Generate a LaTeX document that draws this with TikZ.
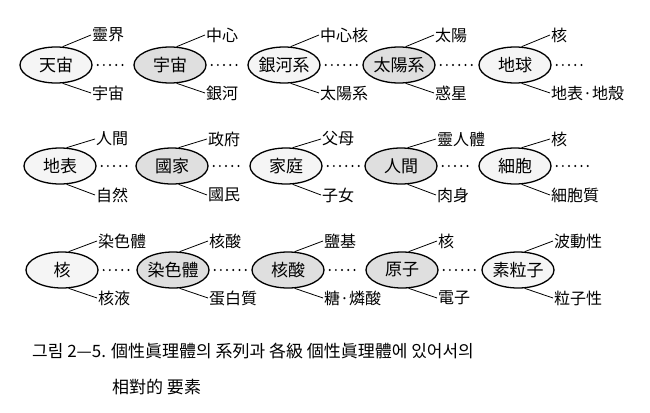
\documentclass[tikz,border=0pt]{standalone}
\usepackage{fontspec}
\setmainfont{Noto Sans CJK KR}
\usetikzlibrary{shapes.geometric}
\tikzset{
	whole/.style={ellipse, draw, line width=1.3pt, minimum width=72pt, minimum height=36pt, inner xsep=-8pt, inner ysep=0pt, font=\fontsize{17}{17}\selectfont},
	lightwhole/.style={whole, fill=gray!8},
	darkwhole/.style={whole, fill=gray!25},
	part/.style={anchor=west, inner sep=1pt, font=\fontsize{16}{16}\selectfont},
	branch/.style={line width=0.8pt},
	chain/.style={line width=2.2pt, line cap=round, dash pattern=on 0pt off 6.2pt, shorten <=5pt, shorten >=5pt}
}
\begin{document}
\begin{tikzpicture}[x=1pt,y=-1pt]
		\useasboundingbox (0,0) rectangle (650,412);
		% row 1
		\node[lightwhole] (tianzhou) at (56,65) {天宙};
		\node[darkwhole] (yuzhou) at (170,65) {宇宙};
		\node[lightwhole] (galaxy) at (284,65) {銀河系};
		\node[darkwhole] (solar) at (399,65) {太陽系};
		\node[lightwhole] (earth) at (515,65) {地球};
		\coordinate (rowaend) at (592,65);
		\node[part] (tianzhouup) at (91,35) {靈界};
		\node[part] (tianzhoudown) at (91,93) {宇宙};
		\node[part] (yuzhouup) at (205,35) {中心};
		\node[part] (yuzhoudown) at (205,93) {銀河};
		\node[part] (galaxyup) at (319,35) {中心核};
		\node[part] (galaxydown) at (319,93) {太陽系};
		\node[part] (solarup) at (434,35) {太陽};
		\node[part] (solardown) at (434,93) {惑星};
		\node[part] (earthup) at (550,35) {核};
		\node[part] (earthdown) at (550,93) {地表·地殼};
		\draw[chain] (tianzhou.east) -- (yuzhou.west);
		\draw[chain] (yuzhou.east) -- (galaxy.west);
		\draw[chain] (galaxy.east) -- (solar.west);
		\draw[chain] (solar.east) -- (earth.west);
		\draw[chain] (earth.east) -- (rowaend);
		\draw[branch] (tianzhou.70) -- (tianzhouup.west);
		\draw[branch] (tianzhou.-70) -- (tianzhoudown.west);
		\draw[branch] (yuzhou.70) -- (yuzhouup.west);
		\draw[branch] (yuzhou.-70) -- (yuzhoudown.west);
		\draw[branch] (galaxy.70) -- (galaxyup.west);
		\draw[branch] (galaxy.-70) -- (galaxydown.west);
		\draw[branch] (solar.70) -- (solarup.west);
		\draw[branch] (solar.-70) -- (solardown.west);
		\draw[branch] (earth.70) -- (earthup.west);
		\draw[branch] (earth.-70) -- (earthdown.west);
		% row 2
		\node[lightwhole] (surface) at (60,166) {地表};
		\node[darkwhole] (nation) at (172,166) {國家};
		\node[lightwhole] (family) at (286,166) {家庭};
		\node[darkwhole] (human) at (401,166) {人間};
		\node[lightwhole] (cell) at (515,166) {細胞};
		\coordinate (rowbend) at (598,166);
		\node[part] (surfaceup) at (95,139) {人間};
		\node[part] (surfacedown) at (95,195) {自然};
		\node[part] (nationup) at (207,139) {政府};
		\node[part] (nationdown) at (207,195) {國民};
		\node[part] (familyup) at (321,139) {父母};
		\node[part] (familydown) at (321,195) {子女};
		\node[part] (humanup) at (436,139) {靈人體};
		\node[part] (humandown) at (436,195) {肉身};
		\node[part] (cellup) at (550,139) {核};
		\node[part] (celldown) at (550,195) {細胞質};
		\draw[chain] (surface.east) -- (nation.west);
		\draw[chain] (nation.east) -- (family.west);
		\draw[chain] (family.east) -- (human.west);
		\draw[chain] (human.east) -- (cell.west);
		\draw[chain] (cell.east) -- (rowbend);
		\draw[branch] (surface.70) -- (surfaceup.west);
		\draw[branch] (surface.-70) -- (surfacedown.west);
		\draw[branch] (nation.70) -- (nationup.west);
		\draw[branch] (nation.-70) -- (nationdown.west);
		\draw[branch] (family.70) -- (familyup.west);
		\draw[branch] (family.-70) -- (familydown.west);
		\draw[branch] (human.70) -- (humanup.west);
		\draw[branch] (human.-70) -- (humandown.west);
		\draw[branch] (cell.70) -- (cellup.west);
		\draw[branch] (cell.-70) -- (celldown.west);
		% row 3
		\node[lightwhole] (nucleus) at (62,270) {核};
		\node[darkwhole] (chromosome) at (173,270) {染色體};
		\node[darkwhole] (nucleicacid) at (288,270) {核酸};
		\node[darkwhole] (atom) at (402,270) {原子};
		\node[lightwhole] (particle) at (518,270) {素粒子};
		\node[part] (nucleusup) at (97,241) {染色體};
		\node[part] (nucleusdown) at (97,298) {核液};
		\node[part] (chromosomeup) at (208,241) {核酸};
		\node[part] (chromosomedown) at (208,298) {蛋白質};
		\node[part] (nucleicacidup) at (323,241) {鹽基};
		\node[part] (nucleicaciddown) at (323,298) {糖·燐酸};
		\node[part] (atomup) at (437,241) {核};
		\node[part] (atomdown) at (437,298) {電子};
		\node[part] (particleup) at (553,241) {波動性};
		\node[part] (particledown) at (553,298) {粒子性};
		\draw[chain] (nucleus.east) -- (chromosome.west);
		\draw[chain] (chromosome.east) -- (nucleicacid.west);
		\draw[chain] (nucleicacid.east) -- (atom.west);
		\draw[chain] (atom.east) -- (particle.west);
		\draw[branch] (nucleus.70) -- (nucleusup.west);
		\draw[branch] (nucleus.-70) -- (nucleusdown.west);
		\draw[branch] (chromosome.70) -- (chromosomeup.west);
		\draw[branch] (chromosome.-70) -- (chromosomedown.west);
		\draw[branch] (nucleicacid.70) -- (nucleicacidup.west);
		\draw[branch] (nucleicacid.-70) -- (nucleicaciddown.west);
		\draw[branch] (atom.70) -- (atomup.west);
		\draw[branch] (atom.-70) -- (atomdown.west);
		\draw[branch] (particle.70) -- (particleup.west);
		\draw[branch] (particle.-70) -- (particledown.west);
		% caption
		\node[anchor=west, inner sep=0pt, font=\fontsize{17}{17}\selectfont] (captiona) at (32,351) {그림 2—5. 個性眞理體의 系列과 各級 個性眞理體에 있어서의};
		\node[anchor=west, inner sep=0pt, font=\fontsize{17}{17}\selectfont] (captionb) at (112,387) {相對的 要素};
	\end{tikzpicture}
\end{document}
